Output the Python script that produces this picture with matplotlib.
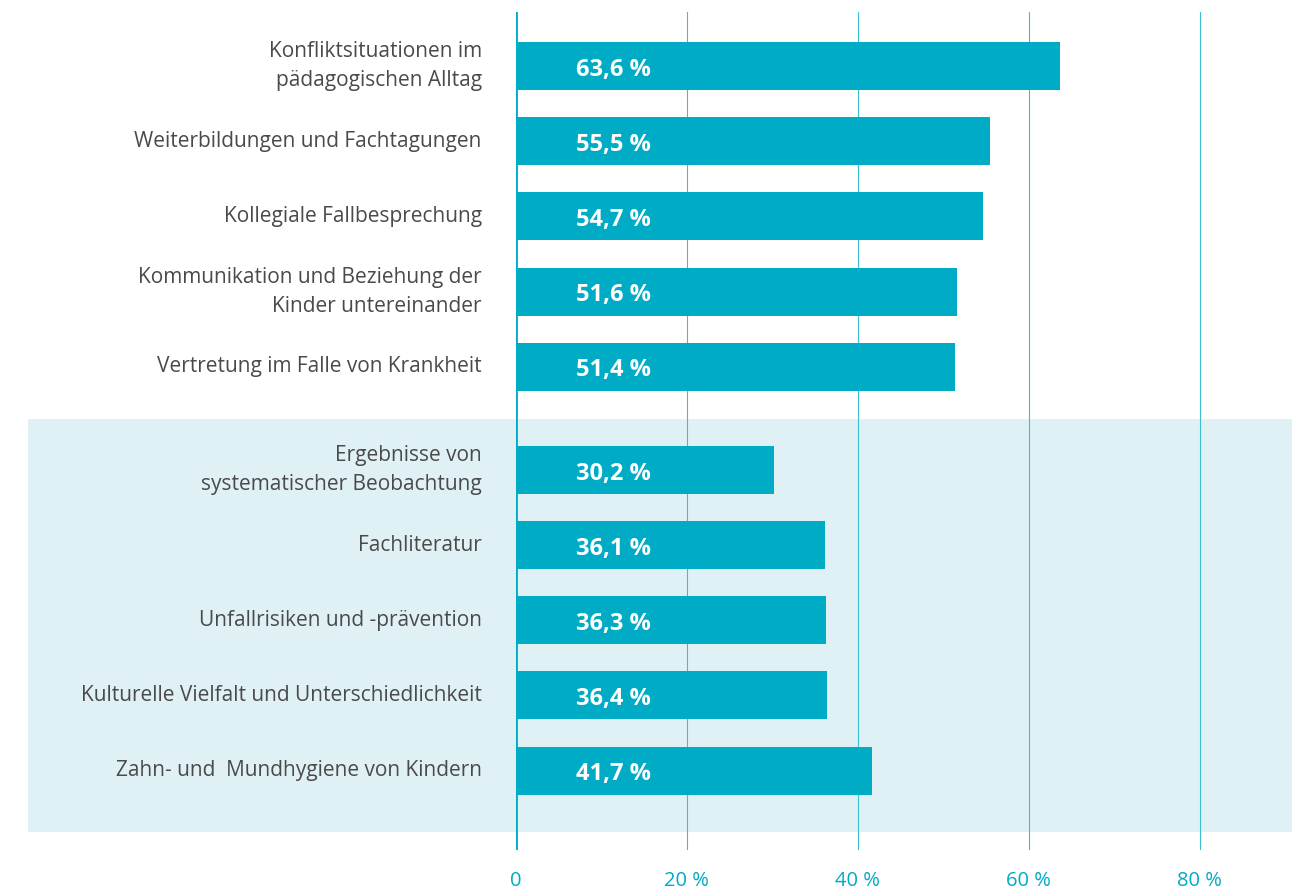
import matplotlib.pyplot as plt
from matplotlib.patches import Rectangle

topics = [
    "Konfliktsituationen im\npädagogischen Alltag",
    "Weiterbildungen und Fachtagungen",
    "Kollegiale Fallbesprechung",
    "Kommunikation und Beziehung der\nKinder untereinander",
    "Vertretung im Falle von Krankheit",
    "Ergebnisse von\nsystematischer Beobachtung",
    "Fachliteratur",
    "Unfallrisiken und -prävention",
    "Kulturelle Vielfalt und Unterschiedlichkeit",
    "Zahn- und  Mundhygiene von Kindern",
]
shares = [63.6, 55.5, 54.7, 51.6, 51.4, 30.2, 36.1, 36.3, 36.4, 41.7]
xticks = [0, 20, 40, 60, 80]
xticklabels = ["0", "20 %", "40 %", "60 %", "80 %"]

teal = "#00abc6"
band = "#e0f1f6"
grey = "#4a4a4a"

plt.rcParams['font.family'] = ['Open Sans', 'DejaVu Sans']

fig = plt.figure(figsize=(12.94, 8.93), dpi=100)
W, H = 1294, 893
ax = fig.add_axes([516 / W, 1 - 850 / H, (1292 - 516) / W, (850 - 12) / H])

gap = 28 / 75
ypos = [i if i < 5 else i + gap for i in range(len(shares))]

# shaded block behind the second group
ax.add_patch(Rectangle((-57.1, 4.693), 57.1 + 90.8, 10.187 - 4.693,
                       facecolor=band, edgecolor="none", clip_on=False, zorder=0))

for x in xticks[1:]:
    ax.axvline(x, color="#3bbdd4", lw=0.8, zorder=1)
ax.axvline(0, color=teal, lw=2, zorder=3)

ax.barh(ypos, shares, height=0.64, color=teal, zorder=2)

for y, v, t in zip(ypos, shares, topics):
    ax.text(7, y + 0.05, f"{v:.1f}".replace(".", ",") + " %", color="white",
            fontsize=17, fontweight="bold", va="center", ha="left", zorder=4)
    ax.text(-4, y, t, color=grey, fontsize=15, va="center", ha="right",
            linespacing=1.5)

ax.set_xlim(0, 90.8)
ax.set_ylim(10.43, -0.72)
ax.set_xticks(xticks)
ax.set_xticklabels(xticklabels, color=teal, fontsize=14.5)
for lab in ax.get_xticklabels():
    lab.set_verticalalignment("center")
ax.tick_params(axis="x", length=0, pad=22)
ax.set_yticks([])
for s in ax.spines.values():
    s.set_visible(False)
ax.patch.set_alpha(0)

fig.savefig("out.png", dpi=100)
